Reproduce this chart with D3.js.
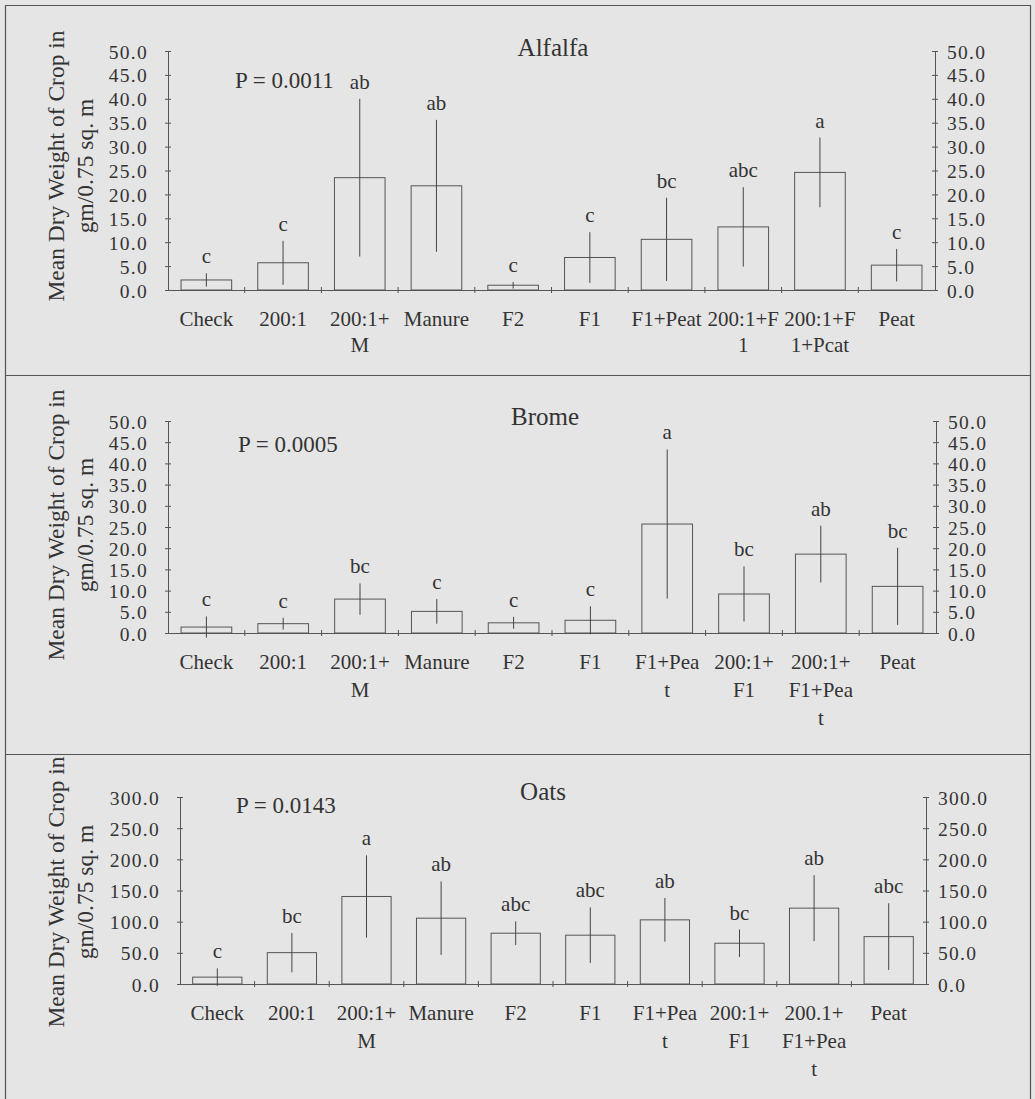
<!DOCTYPE html>
<html><head><meta charset="utf-8">
<script src="https://cdn.jsdelivr.net/npm/d3@7"></script>
<style>
html,body{margin:0;padding:0;background:#e5e5e5;}
text{font-family:"Liberation Serif","Times New Roman",serif;fill:#333;}
</style></head>
<body>
<svg id="chart" width="1035" height="1099"></svg>
<script>
// ---- data ----
const alfalfaLabels = [["Check"],["200:1"],["200:1+","M"],["Manure"],["F2"],["F1"],["F1+Peat"],["200:1+F","1"],["200:1+F","1+Pcat"],["Peat"]];
const alfalfaMeans  = [2.1, 5.7, 23.5, 21.8, 1.0, 6.8, 10.6, 13.2, 24.6, 5.2];
const alfalfaErrors = [1.4, 4.6, 16.5, 13.8, 0.7, 5.3, 8.7, 8.3, 7.3, 3.4];
const alfalfaLetters = ["c","c","ab","ab","c","c","bc","abc","a","c"];

const bromeLabels = [["Check"],["200:1"],["200:1+","M"],["Manure"],["F2"],["F1"],["F1+Pea","t"],["200:1+","F1"],["200:1+","F1+Pea","t"],["Peat"]];
const bromeMeans  = [1.4, 2.2, 8.0, 5.1, 2.4, 3.0, 25.7, 9.2, 18.6, 11.0];
const bromeErrors = [2.5, 1.4, 3.7, 2.9, 1.4, 3.3, 17.6, 6.5, 6.7, 9.1];
const bromeLetters = ["c","c","bc","c","c","c","a","bc","ab","bc"];

const oatsLabels = [["Check"],["200:1"],["200:1+","M"],["Manure"],["F2"],["F1"],["F1+Pea","t"],["200:1+","F1"],["200.1+","F1+Pea","t"],["Peat"]];
const oatsMeans  = [11.0, 50.3, 140.4, 105.6, 81.5, 78.3, 102.9, 65.4, 121.7, 76.0];
const oatsErrors = [14.0, 31.6, 66.0, 59.0, 19.0, 44.5, 35.0, 22.0, 53.0, 53.5];
const oatsLetters = ["c","bc","a","ab","abc","abc","ab","bc","ab","abc"];

const titles = ["Alfalfa","Brome","Oats"];
const pValues = ["P = 0.0011","P = 0.0005","P = 0.0143"];
const yMax = [50, 50, 300];
const yStep = [5, 5, 50];
const yTitleLines = ["Mean Dry Weight of Crop in","gm/0.75 sq. m"];

// ---- layout ----
const svg = d3.select("#chart");
svg.append("rect").attr("width",1035).attr("height",1099).attr("fill","#e5e5e5");
const frame = svg.append("g").attr("stroke","#555").attr("stroke-width",1.2).attr("fill","none");
frame.append("path").attr("d","M5.5,1099 V5.5 H1030.5 V1099");
frame.append("line").attr("x1",5).attr("x2",1031).attr("y1",375.5).attr("y2",375.5);
frame.append("line").attr("x1",5).attr("x2",1031).attr("y1",754.5).attr("y2",754.5);

const panels = [
  {labels:alfalfaLabels, means:alfalfaMeans, errs:alfalfaErrors, letters:alfalfaLetters,
   yTop:51, yBot:290, xL:168, xR:935, titleX:553, titleY:56, pX:235, pY:88, yTitleCY:166, lh:26},
  {labels:bromeLabels, means:bromeMeans, errs:bromeErrors, letters:bromeLetters,
   yTop:421, yBot:633, xL:168, xR:936, titleX:545, titleY:425, pX:238, pY:452, yTitleCY:525, lh:28},
  {labels:oatsLabels, means:oatsMeans, errs:oatsErrors, letters:oatsLetters,
   yTop:797, yBot:984, xL:180, xR:926, titleX:543, titleY:800, pX:236, pY:813, yTitleCY:892, lh:28}
];

panels.forEach((p, i) => {
  const g = svg.append("g");
  const cats = p.labels.map((d,k)=>k);
  const x = d3.scaleBand().domain(cats).range([p.xL, p.xR]).paddingInner(0.34).paddingOuter(0.17);
  const y = d3.scaleLinear().domain([0, yMax[i]]).range([p.yBot, p.yTop]);
  const ticks = d3.range(0, yMax[i] + yStep[i]/2, yStep[i]);

  // left axis
  const la = d3.axisLeft(y).tickValues(ticks).tickFormat(d3.format(".1f")).tickSizeInner(3).tickSizeOuter(0).tickPadding(17);
  const lg = g.append("g").attr("transform",`translate(${p.xL},0)`).call(la);
  // right axis
  const ra = d3.axisRight(y).tickValues(ticks).tickFormat(d3.format(".1f")).tickSizeInner(3).tickSizeOuter(0).tickPadding(9);
  const rg = g.append("g").attr("transform",`translate(${p.xR},0)`).call(ra);
  [lg, rg].forEach(a => {
    a.select(".domain").attr("stroke","#555");
    a.selectAll(".tick line").attr("stroke","#555").attr("x1",-3).attr("x2",3);
    a.selectAll(".tick text").attr("font-size",19.5).attr("letter-spacing","1.3px")
      .attr("font-family","Liberation Serif").attr("fill","#333").attr("dy","0.36em");
  });

  // x axis line with crossing ticks at band boundaries
  const xa = d3.axisBottom(x).tickValues([]).tickSizeOuter(0);
  const xg = g.append("g").attr("transform",`translate(0,${p.yBot})`).call(xa);
  xg.select(".domain").attr("stroke","#555");
  const bounds = d3.range(1, cats.length).map(k => x(k) - x.step()*x.paddingInner()/2);
  g.selectAll(".xtick").data(bounds).join("line")
    .attr("x1",d=>d).attr("x2",d=>d).attr("y1",p.yBot-3).attr("y2",p.yBot+3)
    .attr("stroke","#555");

  // bars
  g.selectAll(".bar").data(p.means).join("rect")
    .attr("x",(d,k)=>x(k)).attr("width",x.bandwidth())
    .attr("y",d=>y(d)).attr("height",d=>p.yBot - y(d))
    .attr("fill","none").attr("stroke","#555").attr("stroke-width",1);

  // error bars
  g.selectAll(".err").data(p.means).join("line")
    .attr("x1",(d,k)=>x(k)+x.bandwidth()/2).attr("x2",(d,k)=>x(k)+x.bandwidth()/2)
    .attr("y1",(d,k)=>y(d + p.errs[k])).attr("y2",(d,k)=>y(d - p.errs[k]))
    .attr("stroke","#444").attr("stroke-width",1);

  // letters
  g.selectAll(".let").data(p.letters).join("text")
    .attr("x",(d,k)=>x(k)+x.bandwidth()/2)
    .attr("y",(d,k)=>y(p.means[k] + p.errs[k]) - 10)
    .attr("text-anchor","middle").attr("font-size",21).text(d=>d);

  // category labels
  const lab = g.selectAll(".cat").data(p.labels).join("text")
    .attr("x",(d,k)=>x(k)+x.bandwidth()/2)
    .attr("y",p.yBot + 36)
    .attr("text-anchor","middle").attr("font-size",21);
  lab.selectAll("tspan").data(d=>d).join("tspan")
    .attr("x",function(){return this.parentNode.getAttribute("x");})
    .attr("dy",(d,j)=> j===0 ? 0 : p.lh).text(d=>d);

  // title & P
  g.append("text").attr("x",p.titleX).attr("y",p.titleY).attr("text-anchor","middle")
    .attr("font-size",25).text(titles[i]);
  g.append("text").attr("x",p.pX).attr("y",p.pY).attr("font-size",23).text(pValues[i]);

  // y title
  const yt = g.append("text").attr("transform",`translate(64,${p.yTitleCY}) rotate(-90)`)
    .attr("text-anchor","middle").attr("font-size",23.5);
  yt.selectAll("tspan").data(yTitleLines).join("tspan")
    .attr("x",0).attr("dy",(d,j)=> j===0 ? 0 : 29).text(d=>d);
});
</script>
</body></html>
